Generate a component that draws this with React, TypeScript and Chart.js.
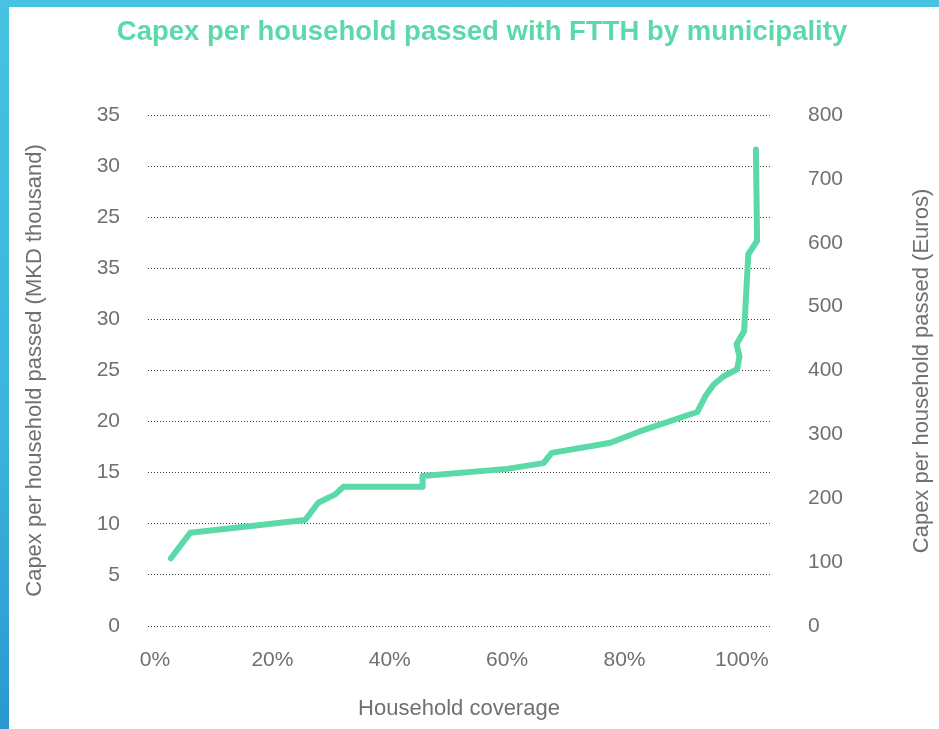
import React, { useEffect, useRef } from "react";
import { Chart, registerables } from "chart.js";

Chart.register(...registerables);

const chartTitle = "Capex per household passed with FTTH by municipality";
const xAxisTitle = "Household coverage";
const leftAxisTitle = "Capex per household passed (MKD thousand)";
const rightAxisTitle = "Capex per household passed (Euros)";

// Left axis tick labels as printed (bottom to top)
const leftTickLabels = ["0", "5", "10", "15", "20", "25", "30", "35", "25", "30", "35"];
const xTickValues = [0, 20, 40, 60, 80, 100];

// Household coverage (%) and capex per household passed (Euros)
const coverage = [2.7, 6.0, 25.6, 27.8, 30.7, 32.1, 45.6, 45.6, 60.0, 66.2, 67.6, 77.6, 82.7, 92.4, 93.8, 95.2, 96.9, 99.2, 99.6, 99.1, 100.4, 101.1, 102.6, 102.4];
const capexEuro = [106, 146, 166, 193, 206, 218, 218, 235, 246, 255, 271, 287, 305, 335, 360, 378, 391, 402, 422, 441, 462, 582, 603, 746];

const GREEN = "#5cd9a8";
const TEXT = "#707070";
const FONT = "'Liberation Sans', Arial, sans-serif";

const textPlugin = {
  id: "extraText",
  afterDraw(chart: any) {
    const ctx = chart.ctx;
    ctx.save();
    ctx.fillStyle = GREEN;
    ctx.font = `bold 27.5px ${FONT}`;
    ctx.textAlign = "center";
    ctx.textBaseline = "middle";
    ctx.fillText(chartTitle, 482, 32);

    ctx.fillStyle = TEXT;
    ctx.font = `22px ${FONT}`;
    ctx.translate(922, 371);
    ctx.rotate(-Math.PI / 2);
    ctx.fillText(rightAxisTitle, 0, 0);
    ctx.restore();
  },
};

export default function App() {
  const ref = useRef<HTMLCanvasElement>(null);
  useEffect(() => {
    if (!ref.current) return;
    const points = coverage.map((x, i) => ({ x, y: capexEuro[i] }));
    const chart = new Chart(ref.current, {
      type: "line",
      data: {
        datasets: [
          {
            data: points,
            yAxisID: "y2",
            borderColor: GREEN,
            borderWidth: 6,
            pointRadius: 0,
            tension: 0,
            borderJoinStyle: "round",
            borderCapStyle: "round",
            fill: false,
          },
        ],
      },
      options: {
        responsive: false,
        animation: false,
        layout: { padding: { top: 115, left: 0, right: 0, bottom: 0 } },
        plugins: { legend: { display: false }, tooltip: { enabled: false }, title: { display: false } },
        scales: {
          x: {
            type: "linear",
            min: -1.2,
            max: 104.8,
            afterBuildTicks: (s: any) => {
              s.ticks = xTickValues.map((v) => ({ value: v }));
            },
            afterFit: (s: any) => {
              s.height = 103;
            },
            grid: { display: false, drawTicks: false },
            border: { display: false },
            ticks: {
              padding: 22,
              color: TEXT,
              font: { size: 21, family: FONT },
              callback: (v: any) => `${v}%`,
            },
            title: {
              display: true,
              text: xAxisTitle,
              color: TEXT,
              font: { size: 22, family: FONT },
              padding: { top: 0, bottom: 7 },
            },
          },
          y: {
            type: "linear",
            position: "left",
            min: 0,
            max: 50,
            afterBuildTicks: (s: any) => {
              s.ticks = leftTickLabels.map((_, i) => ({ value: i * 5 }));
            },
            afterFit: (s: any) => {
              s.width = 148;
            },
            grid: {
              color: "#3c3c3c",
              lineWidth: 1,
              drawTicks: false,
            },
            border: { display: false, dash: [1, 2] },
            ticks: {
              padding: 28,
              color: TEXT,
              font: { size: 21, family: FONT },
              callback: (v: any) => leftTickLabels[Math.round(Number(v) / 5)],
            },
            title: {
              display: true,
              text: leftAxisTitle,
              color: TEXT,
              font: { size: 22, family: FONT },
              padding: { top: 22, bottom: 0 },
            },
          },
          y2: {
            type: "linear",
            position: "right",
            min: 0,
            max: 800,
            ticks: {
              stepSize: 100,
              padding: 38,
              color: TEXT,
              font: { size: 21, family: FONT },
            },
            afterFit: (s: any) => {
              s.width = 169;
            },
            grid: { display: false, drawTicks: false },
            border: { display: false },
          },
        },
      },
      plugins: [textPlugin],
    } as any);
    return () => chart.destroy();
  }, []);

  return (
    <div
      style={{
        position: "absolute",
        left: 0,
        top: 0,
        width: 939,
        height: 729,
        overflow: "hidden",
        background: "linear-gradient(180deg, #47c2e1 0%, #3bb3dd 60%, #2a98cf 100%)",
      }}
    >
      <div style={{ position: "absolute", left: 9, top: 7, right: 0, bottom: 0, background: "#ffffff" }} />
      <canvas ref={ref} width={939} height={729} style={{ position: "absolute", left: 0, top: 0 }} />
    </div>
  );
}
